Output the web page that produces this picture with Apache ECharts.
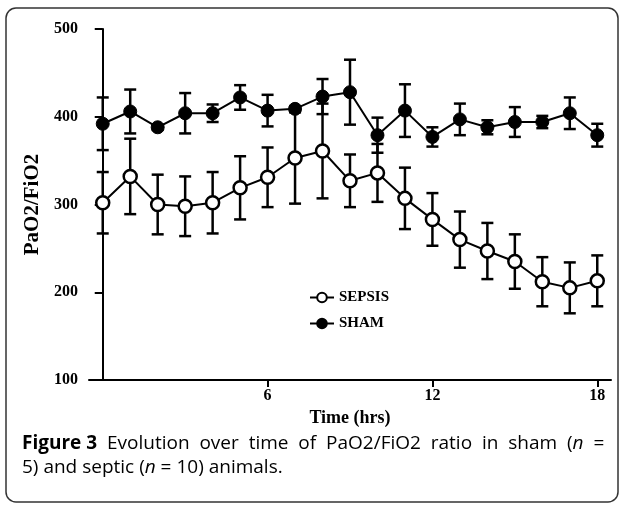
<!DOCTYPE html>
<html>
<head>
<meta charset="utf-8">
<script src="https://cdn.jsdelivr.net/npm/echarts@6/dist/echarts.min.js"></script>
<style>html,body{margin:0;padding:0;background:#fff;}#chart{width:624px;height:505px;}</style>
</head>
<body>
<div id="chart"></div>
<script>
const hours = [0,1,2,3,4,5,6,7,8,9,10,11,12,13,14,15,16,17,18];
const sepsis = [302,332,300,298,302,319,331,353,361,327,336,307,283,260,247,235,212,205,213];
const sepsisErr = [35,43,34,34,35,36,34,52,54,30,33,35,30,32,32,31,28,29,29];
const sham = [392,406,388,404,404,422,407,409,423,428,379,407,377,397,388,394,394,404,379];
const shamErr = [30,25,3,23,10,14,18,3,20,37,20,30,11,18,8,17,7,18,13];
const xTicks = [6,12,18];
const yTicks = [100,200,300,400,500];

const serif = '"Liberation Serif", "Times New Roman", serif';

function errSeries(name, vals, errs) {
  return {
    type: 'custom', name: name + ' err', z: 1, silent: true,
    data: hours.map((h, i) => [h, vals[i], errs[i]]),
    renderItem: function (params, api) {
      const x = api.value(0), v = api.value(1), e = api.value(2);
      const top = api.coord([x, v + e]);
      const bot = api.coord([x, v - e]);
      const hw = 6;
      const st = { stroke: '#000', lineWidth: 2.5 };
      return { type: 'group', children: [
        { type: 'line', shape: { x1: top[0], y1: top[1], x2: bot[0], y2: bot[1] }, style: st },
        { type: 'line', shape: { x1: top[0] - hw, y1: top[1], x2: top[0] + hw, y2: top[1] }, style: st },
        { type: 'line', shape: { x1: bot[0] - hw, y1: bot[1], x2: bot[0] + hw, y2: bot[1] }, style: st }
      ]};
    }
  };
}

const chart = echarts.init(document.getElementById('chart'));
chart.setOption({
  animation: false,
  backgroundColor: '#fff',
  grid: { left: 89, top: 29, right: 13, bottom: 125, containLabel: false },
  xAxis: {
    type: 'value', min: -0.5, max: 18.5,
    name: 'Time (hrs)', nameLocation: 'middle', nameGap: 22,
    nameTextStyle: { fontFamily: serif, fontWeight: 'bold', fontSize: 18, color: '#000' },
    axisLine: { lineStyle: { color: '#000', width: 2 } },
    axisTick: { show: true, length: 7, lineStyle: { color: '#000', width: 2 }, customValues: xTicks },
    axisLabel: { customValues: xTicks, fontFamily: serif, fontWeight: 'bold', fontSize: 16, color: '#000', margin: 8 },
    splitLine: { show: false }
  },
  yAxis: {
    type: 'value', min: 100, max: 500, interval: 100,
    name: 'PaO2/FiO2', nameLocation: 'middle', nameGap: 45, nameRotate: 90,
    nameTextStyle: { fontFamily: serif, fontWeight: 'bold', fontSize: 21, color: '#000' },
    axisLine: { show: true, lineStyle: { color: '#000', width: 2 } },
    axisTick: { show: true, length: 8, lineStyle: { color: '#000', width: 2 } },
    axisLabel: { fontFamily: serif, fontWeight: 'bold', fontSize: 16, color: '#000', margin: 11 },
    splitLine: { show: false }
  },
  legend: {
    orient: 'vertical', left: 304, top: 285, itemWidth: 24, itemHeight: 12, itemGap: 11,
    data: ['SEPSIS', 'SHAM'],
    textStyle: { fontFamily: serif, fontWeight: 'bold', fontSize: 15, color: '#000' }
  },
  series: [
    errSeries('sham', sham, shamErr),
    errSeries('sepsis', sepsis, sepsisErr),
    {
      name: 'SHAM', type: 'line', z: 3,
      data: hours.map((h, i) => [h, sham[i]]),
      symbol: 'circle', symbolSize: 13,
      lineStyle: { color: '#000', width: 2 },
      itemStyle: { color: '#000', borderColor: '#000', borderWidth: 1 }
    },
    {
      name: 'SEPSIS', type: 'line', z: 4,
      data: hours.map((h, i) => [h, sepsis[i]]),
      symbol: 'circle', symbolSize: 13,
      lineStyle: { color: '#000', width: 2 },
      itemStyle: { color: '#fff', borderColor: '#000', borderWidth: 2.5 }
    }
  ],
  graphic: [
    { type: 'rect', z: 0, silent: true,
      shape: { x: 6, y: 8, width: 612, height: 494, r: 10 },
      style: { fill: 'none', stroke: '#333', lineWidth: 1.5 } },
    { type: 'text', left: 22, top: 432, silent: true,
      style: {
        text: '{b|Figure 3}  Evolution  over  time  of  PaO2/FiO2  ratio  in  sham  ({i|n}  =\n5) and septic ({i|n} = 10) animals.',
        font: '19px "Open Sans", sans-serif', fill: '#000', lineHeight: 24,
        rich: {
          b: { fontFamily: '"Open Sans", sans-serif', fontWeight: 'bold', fontSize: 19, fill: '#000', lineHeight: 24 },
          i: { fontFamily: '"Open Sans", sans-serif', fontStyle: 'italic', fontSize: 19, fill: '#000', lineHeight: 24 }
        }
      } }
  ]
});
</script>
</body>
</html>
